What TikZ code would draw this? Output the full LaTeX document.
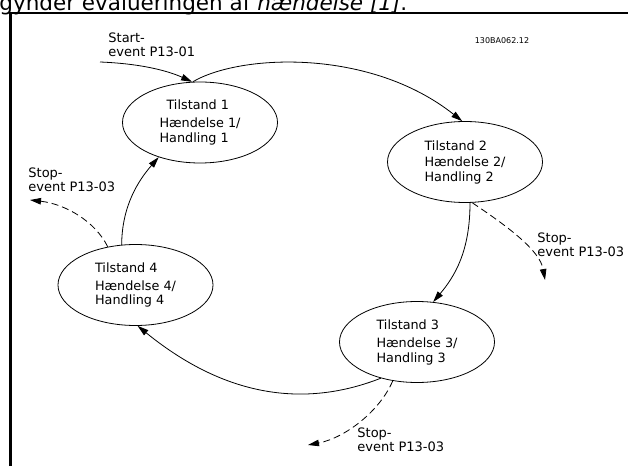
\documentclass[tikz,border=0pt]{standalone}
\usepackage{fontspec}
\setmainfont{DejaVu Sans}
\usetikzlibrary{arrows.meta,shapes.geometric}
\begin{document}
\begin{tikzpicture}
[x=1pt, y=1pt, line width=0.8pt,
tilstand/.style={draw, ellipse, minimum width=155, minimum height=81, inner sep=0pt, align=left, font=\fontsize{12.8}{14.5}\selectfont},
pil/.style={-{Triangle[length=11pt, width=6.5pt]}},
stoppil/.style={pil, dash pattern=on 7pt off 4pt},
etiket/.style={anchor=west, align=left, inner sep=0pt, font=\fontsize{13}{14}\selectfont}]
\useasboundingbox (0,0) rectangle (628,466);
\clip (0,0) rectangle (628,466);
\node [anchor=base west, inner sep=0pt, font=\fontsize{21.5}{21.5}\selectfont] (overskrift) at (-1,455) {gynder evalueringen af \textit{hændelse [1]}.};
\draw [line width=2.5pt] (10.5,0) -- (10.5,453) -- (628,453);
\node [inner sep=0pt, font=\fontsize{8}{8}\selectfont] (kode) at (502,425) {130BA062.12};
\node [tilstand] (t1) at (200,343.5) {\hspace*{7pt}Tilstand 1\\[3.5pt]Hændelse 1/\\Handling 1};
\node [tilstand] (t2) at (465,304) {Tilstand 2\\[2pt]Hændelse 2/\\Handling 2};
\node [tilstand] (t3) at (417,124) {Tilstand 3\\[4pt]Hændelse 3/\\Handling 3};
\node [tilstand] (t4) at (135.5,181) {Tilstand 4\\[3.5pt]Hændelse 4/\\Handling 4};
\coordinate (start) at (100,404);
\coordinate (stop2) at (545,186);
\coordinate (stop3) at (308,21);
\coordinate (stop4) at (30,266);
\node [etiket] (startlabel) at (108,421) {Start-\\event P13-01};
\node [etiket] (stoplabel2) at (537,221) {Stop-\\event P13-03};
\node [etiket] (stoplabel3) at (357,26) {Stop-\\event P13-03};
\node [etiket] (stoplabel4) at (28,286) {Stop-\\event P13-03};
\draw [pil] (start) .. controls (150,402) and (175,392) .. (t1.101);
\draw [pil] (t1.100) .. controls (240,412) and (370,418) .. (t2.94);
\draw [pil] (t2.-83) .. controls (470,215) and (455,190) .. (t3.68);
\draw [pil] (t3.-135) .. controls (310,60) and (230,65) .. (t4.-87);
\draw [pil] (t4.109) .. controls (122,260) and (138,285) .. (t1.-140);
\draw [stoppil] (t2.-80) .. controls (510,238) and (540,215) .. (stop2);
\draw [stoppil] (t3.-122) .. controls (380,55) and (345,28) .. (stop3);
\draw [stoppil] (t4.126) .. controls (95,245) and (65,262) .. (stop4);
\end{tikzpicture}
\end{document}
